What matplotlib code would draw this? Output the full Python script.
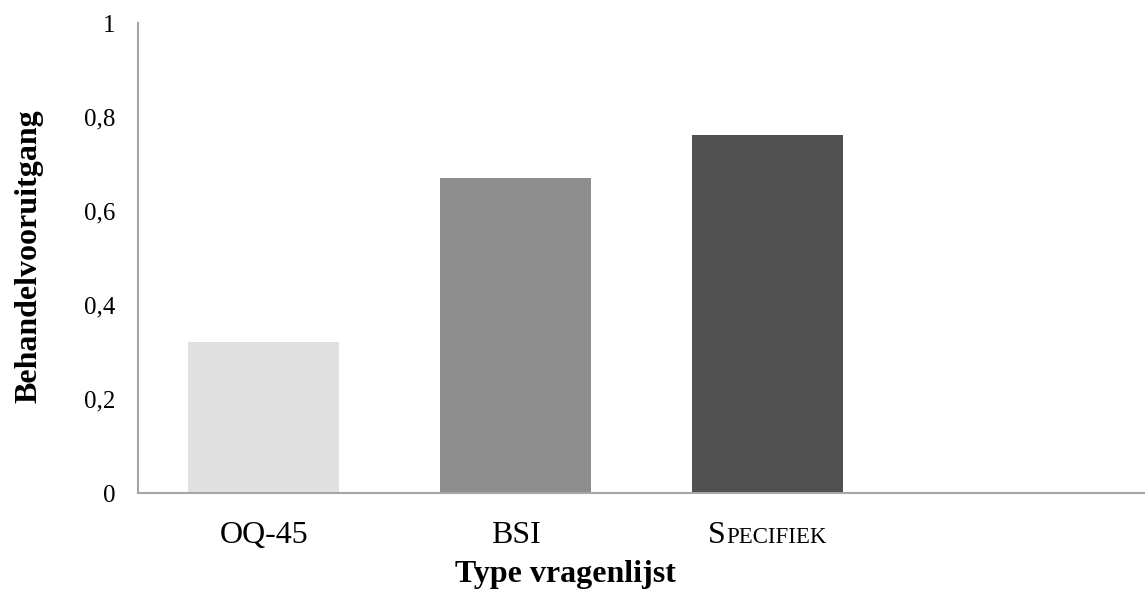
import matplotlib
matplotlib.use("Agg")
import matplotlib.pyplot as plt
from matplotlib.offsetbox import TextArea, HPacker, AnnotationBbox

categories = ["OQ-45", "BSI", "SPECIFIEK", ""]
values = [0.321, 0.670, 0.762, 0]
colors = ["#e0e0e0", "#8e8e8e", "#505050", "#ffffff"]
yticks = [0, 0.2, 0.4, 0.6, 0.8, 1]
ytick_labels = ["0", "0,2", "0,4", "0,6", "0,8", "1"]

plt.rcParams['font.family'] = ['Liberation Serif', 'DejaVu Serif']

fig = plt.figure(figsize=(11.45, 5.91), dpi=100)
ax = fig.add_axes([0.1205, 0.1658, 0.8795, 0.7952])

x = list(range(len(categories)))
ax.bar(x[:3], values[:3], width=0.6, color=colors[:3])
ax.set_xlim(-0.5, 3.5)
ax.set_ylim(0, 1)
ax.set_yticks(yticks)
ax.set_yticklabels(ytick_labels, fontsize=18)
ax.tick_params(axis='y', length=0, pad=16.5)
ax.set_xticks(x[:2])
ax.set_xticklabels(categories[:2], fontsize=23)
ax.tick_params(axis='x', length=0, pad=20)

# small caps label for third category
ta1 = TextArea("S", textprops=dict(fontsize=23, color="black"))
ta2 = TextArea("PECIFIEK", textprops=dict(fontsize=16.5, color="black"))
pack = HPacker(children=[ta1, ta2], align="baseline", pad=0, sep=0)
ab = AnnotationBbox(pack, (2, 0), xybox=(0, -20), xycoords=('data', 'axes fraction'),
                    boxcoords="offset points", frameon=False, box_alignment=(0.5, 1.0))
ax.add_artist(ab)

for s in ["top", "right"]:
    ax.spines[s].set_visible(False)
for s in ["left", "bottom"]:
    ax.spines[s].set_color("#a6a6a6")
    ax.spines[s].set_linewidth(1.5)

fig.text(0.4934, 0.003, "Type vragenlijst", fontsize=23, fontweight="bold", ha="center", va="bottom")
fig.text(0.0253, 0.567, "Behandelvooruitgang", fontsize=23, fontweight="bold", rotation=90,
         ha="center", va="center")

fig.savefig("out.png", dpi=100)
